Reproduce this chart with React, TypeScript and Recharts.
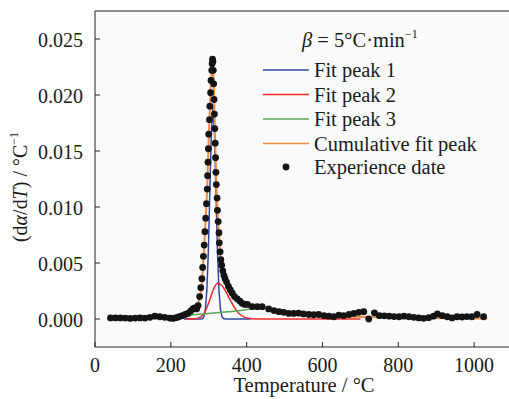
import { CartesianGrid, ComposedChart, Line, ReferenceLine, Scatter, XAxis, YAxis } from "recharts";

const serif = '"Liberation Serif", "Times New Roman", serif';
const axisColor = "#2b2222";
const textColor = "#1a1a1a";

// experimental points (temperature °C, dα/dT)
const expTemp = [
  41, 54, 67, 80, 93, 106, 119, 132, 145, 158, 171, 184, 197, 206, 214, 222, 230, 238, 245, 252,
  258, 263, 268, 272, 276, 279, 282, 284, 286, 288, 290, 292, 294, 296, 297, 298, 299, 300, 302, 303,
  305, 306, 308, 309, 310, 311, 312, 313, 314, 315, 316, 317, 318, 319, 320, 322, 323, 325, 327, 328,
  330, 332, 334, 337, 340, 343, 347, 352, 357, 362, 368, 375, 382, 388, 395, 402, 415, 428, 441, 458,
  472, 485, 498, 511, 524, 537, 550, 564, 577, 590, 604, 617, 630, 643, 656, 670, 683, 696, 709, 722,
  737, 750, 763, 776, 789, 802, 815, 828, 841, 854, 867, 880, 893, 903, 916, 929, 942, 955, 968, 981,
  994, 1008, 1025,
];
const expRate = [
  0.0001, 0.0001, 0.0001, 0.00008, 0.00005, 0.00008, 0.0001, 0.00008, 0.00015, 0.00025, 0.0002, 0.00015, 0.00008, 0.00005, 0.00012, 0.0002, 0.0003, 0.0004, 0.0005, 0.0007,
  0.0009, 0.001, 0.0009, 0.0012, 0.002, 0.0028, 0.0036, 0.0046, 0.0056, 0.0066, 0.0078, 0.009, 0.0103, 0.0116, 0.0128, 0.014, 0.0152, 0.0165, 0.0178, 0.019,
  0.0202, 0.0213, 0.0222, 0.0228, 0.0232, 0.023, 0.0222, 0.021, 0.0196, 0.0183, 0.017, 0.0157, 0.0144, 0.0131, 0.012, 0.0108, 0.0097, 0.0087, 0.0077, 0.0068,
  0.006, 0.0053, 0.0048, 0.0043, 0.0039, 0.0036, 0.0033, 0.0029, 0.0026, 0.0023, 0.002, 0.0018, 0.0016, 0.0014, 0.0013, 0.0013, 0.0011, 0.0011, 0.0011, 0.0009,
  0.00075, 0.00065, 0.0006, 0.0005, 0.0005, 0.00052, 0.00045, 0.0004, 0.00038, 0.0004, 0.0003, 0.00025, 0.0002, 0.00035, 0.0003, 0.0004, 0.0005, 0.0006, 0.00065, 0.0,
  0.00055, 0.0003, 0.00028, 0.00025, 0.00022, 0.0002, 0.00025, 0.0002, 0.00015, 0.0001, 0.00006, 0.00012, 0.00025, 0.00045, 0.0003, 0.0002, 0.0001, 0.0002, 0.00018, 0.00022,
  0.0002, 0.0004, 0.0002,
];

const peak1Temp = [235, 260, 279, 283, 287, 291, 295, 299, 303, 307, 311, 315, 319, 323, 327, 331, 335, 339, 345, 380, 410];
const peak1Rate = [0, 0, 0.00001, 0.00004, 0.00021, 0.00083, 0.00255, 0.0061, 0.0115, 0.0167, 0.0189, 0.0167, 0.0115, 0.0061, 0.00255, 0.00083, 0.00021, 0.00004, 0.00001, 0, 0];

const peak2Temp = [240, 254, 264, 274, 284, 294, 304, 314, 324, 334, 344, 354, 364, 374, 384, 394, 404, 414, 450, 700];
const peak2Rate = [0, 0.000005, 0.00002, 0.0001, 0.00035, 0.00092, 0.00184, 0.00278, 0.0032, 0.00301, 0.00252, 0.00187, 0.00124, 0.00072, 0.00038, 0.00017, 0.00007, 0.00003, 0, 0];

const peak3Temp = [170, 200, 225, 252, 300, 350, 384, 410, 430, 460, 500, 530, 560, 600, 650, 700];
const peak3Rate = [0.00012, 0.0002, 0.00027, 0.00036, 0.0005, 0.00065, 0.00075, 0.0009, 0.00098, 0.0009, 0.00062, 0.0005, 0.0004, 0.00032, 0.00025, 0.0002];

const sumTemp = [
  35, 80, 130, 180, 210, 235, 250, 262, 270, 276, 280, 284, 288, 292, 296, 299, 302, 305, 308, 310,
  312, 314, 316, 318, 320, 323, 326, 329, 332, 336, 340, 346, 352, 360, 370, 380, 392, 405, 420, 440,
  460, 480, 500, 530, 560, 600, 650, 700, 750, 800, 850, 900, 950, 1000, 1035,
];
const sumRate = [
  0.00005, 0.00006, 0.0001, 0.00015, 0.0002, 0.00035, 0.0006, 0.0009, 0.0012, 0.0019, 0.0027, 0.0042, 0.0064, 0.009, 0.0118, 0.015, 0.018, 0.0205, 0.0222, 0.0226,
  0.022, 0.02, 0.0172, 0.0145, 0.0122, 0.0098, 0.008, 0.0065, 0.0053, 0.0045, 0.0039, 0.0034, 0.0029, 0.0024, 0.002, 0.0017, 0.0015, 0.0013, 0.0011, 0.001,
  0.0009, 0.00075, 0.00062, 0.0005, 0.0004, 0.00032, 0.00025, 0.0002, 0.00016, 0.00013, 0.0001, 0.00008, 0.00006, 0.00005, 0.00004,
];

const xTicks = [0, 200, 400, 600, 800, 1000];
const yTicks = [0, 0.005, 0.01, 0.015, 0.02, 0.025];

const zip = (ts: number[], vs: number[]) => ts.map((t, i) => ({ t, v: vs[i] }));

const expData = zip(expTemp, expRate);
const peak1 = zip(peak1Temp, peak1Rate);
const peak2 = zip(peak2Temp, peak2Rate);
const peak3 = zip(peak3Temp, peak3Rate);
const cumulative = zip(sumTemp, sumRate);

const YTick = ({ x, y, payload }: any) => (
  <g>
    <line x1={x} x2={x + 5} y1={y} y2={y} stroke={axisColor} />
    <text x={x - 12} y={y + 8} textAnchor="end" fontSize={20} fontFamily={serif} fill={textColor}>
      {Number(payload.value).toFixed(3)}
    </text>
  </g>
);

const XTick = ({ x, y, payload }: any) => (
  <g>
    <line x1={x} x2={x} y1={y} y2={y - 5} stroke={axisColor} />
    <text x={x} y={y + 25} textAnchor="middle" fontSize={20} fontFamily={serif} fill={textColor}>
      {payload.value}
    </text>
  </g>
);

const Dot = ({ cx, cy }: any) => <circle cx={cx} cy={cy} r={3.4} fill="#141414" />;

const legendRows = [
  { label: "Fit peak 1", color: "#2f47a8" },
  { label: "Fit peak 2", color: "#f02828" },
  { label: "Fit peak 3", color: "#55a855" },
  { label: "Cumulative fit peak", color: "#f08a40" },
];

export default function App() {
  return (
    <div style={{ position: "absolute", left: 0, top: 0, width: 509, height: 399, background: "#fff" }}>
      <ComposedChart width={509} height={399} margin={{ top: 11, right: 0, bottom: 0, left: 0 }}>
        <CartesianGrid horizontal={false} vertical={false} fill="#fafafa" />
        <XAxis
          dataKey="t"
          type="number"
          domain={[0, 1092]}
          ticks={xTicks}
          height={52}
          allowDataOverflow
          tickSize={0}
          tickMargin={0}
          tick={<XTick />}
          stroke={axisColor}
        />
        <YAxis
          type="number"
          domain={[-0.0025, 0.0275]}
          ticks={yTicks}
          width={95}
          allowDataOverflow
          tickSize={0}
          tickMargin={0}
          tick={<YTick />}
          stroke={axisColor}
        />
        <ReferenceLine y={0.0275} stroke={axisColor} />
        <Line data={peak1} dataKey="v" type="linear" stroke="#2f47a8" strokeWidth={1.5} dot={false} isAnimationActive={false} />
        <Line data={peak2} dataKey="v" type="monotone" stroke="#f02828" strokeWidth={1.5} dot={false} isAnimationActive={false} />
        <Line data={peak3} dataKey="v" type="monotone" stroke="#55a855" strokeWidth={1.5} dot={false} isAnimationActive={false} />
        <Line data={cumulative} dataKey="v" type="monotone" stroke="#f08a40" strokeWidth={2} dot={false} isAnimationActive={false} />
        <Scatter data={expData} dataKey="v" shape={<Dot />} isAnimationActive={false} />
      </ComposedChart>
      <svg width={509} height={399} style={{ position: "absolute", left: 0, top: 0, pointerEvents: "none" }}>
        <g fontFamily={serif} fill={textColor}>
          <text x={27} y={187} fontSize={20} textAnchor="middle" transform="rotate(-90 27 187)">
            (d<tspan fontStyle="italic">α</tspan>/d<tspan fontStyle="italic">T</tspan>) / °C
            <tspan fontSize={12} dy={-9}>−1</tspan>
          </text>
          <text x={304} y={392} fontSize={20.5} textAnchor="middle">
            Temperature / °C
          </text>
          <text x={302} y={47} fontSize={20.5}>
            <tspan fontStyle="italic">β</tspan> = 5°C·min<tspan fontSize={12} dy={-9}>−1</tspan>
          </text>
          {legendRows.map((r, i) => (
            <g key={r.label}>
              <line x1={263} x2={309} y1={70 + i * 24.5} y2={70 + i * 24.5} stroke={r.color} strokeWidth={1.5} />
              <text x={314} y={77 + i * 24.5} fontSize={20.5}>
                {r.label}
              </text>
            </g>
          ))}
          <circle cx={286} cy={167} r={3.4} fill="#141414" />
          <text x={314} y={174} fontSize={20.5}>
            Experience date
          </text>
        </g>
      </svg>
    </div>
  );
}
